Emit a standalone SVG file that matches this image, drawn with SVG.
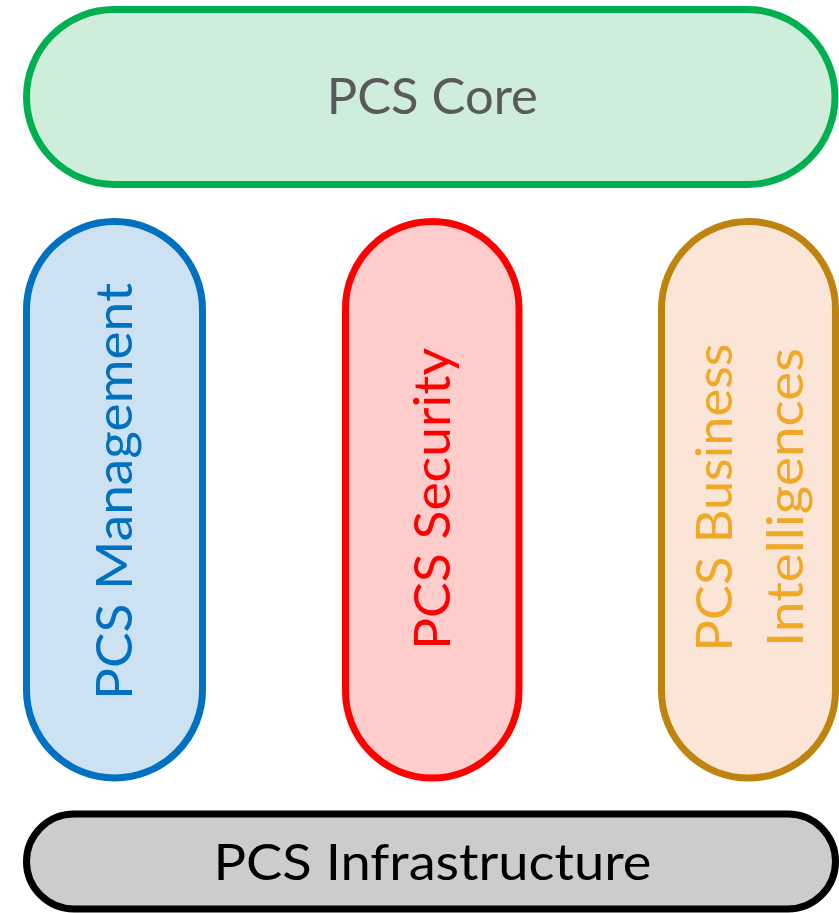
<svg xmlns="http://www.w3.org/2000/svg" width="839" height="913" viewBox="0 0 839 913">
<style>
.box{stroke-width:7}
.lbl{font-family:Lato,"Open Sans","Liberation Sans",sans-serif;font-size:51px;text-anchor:middle}
</style>
<rect width="839" height="913" fill="#FFFFFF"/>
<g id="connectors"/>
<g id="pcs-core">
<rect class="box" x="26.5" y="9.5" width="808.5" height="175" rx="87.5" fill="#CEEEDB" stroke="#00B050"/>
<text class="lbl" x="432.3" y="114.3" fill="#595959" textLength="211" lengthAdjust="spacingAndGlyphs">PCS Core</text>
</g>
<g id="pcs-management">
<rect class="box" x="26.5" y="221.5" width="176" height="556.5" rx="88" fill="#CCE1F2" stroke="#0070C0"/>
<text class="lbl" transform="translate(131.5,491.5) rotate(-90)" fill="#0070C0" textLength="417" lengthAdjust="spacingAndGlyphs">PCS Management</text>
</g>
<g id="pcs-security">
<rect class="box" x="345.5" y="221.5" width="173.5" height="556.5" rx="86.75" fill="#FFCCCC" stroke="#FF0000"/>
<text class="lbl" transform="translate(450,499) rotate(-90)" fill="#FF0000" textLength="302" lengthAdjust="spacingAndGlyphs">PCS Security</text>
</g>
<g id="pcs-business-intelligences">
<rect class="box" x="661.5" y="221.5" width="174" height="556.5" rx="87" fill="#FBE5D6" stroke="#BF840F"/>
<text class="lbl" transform="translate(731.5,497.5) rotate(-90)" fill="#F0A828" textLength="308" lengthAdjust="spacingAndGlyphs">PCS Business</text>
<text class="lbl" transform="translate(803,497.5) rotate(-90)" fill="#F0A828" textLength="299" lengthAdjust="spacingAndGlyphs">Intelligences</text>
</g>
<g id="pcs-infrastructure">
<rect class="box" x="26.5" y="814" width="809" height="95" rx="47.5" fill="#CCCCCC" stroke="#000000"/>
<text class="lbl" x="432.5" y="880" fill="#000000" textLength="438" lengthAdjust="spacingAndGlyphs">PCS Infrastructure</text>
</g>
</svg>
